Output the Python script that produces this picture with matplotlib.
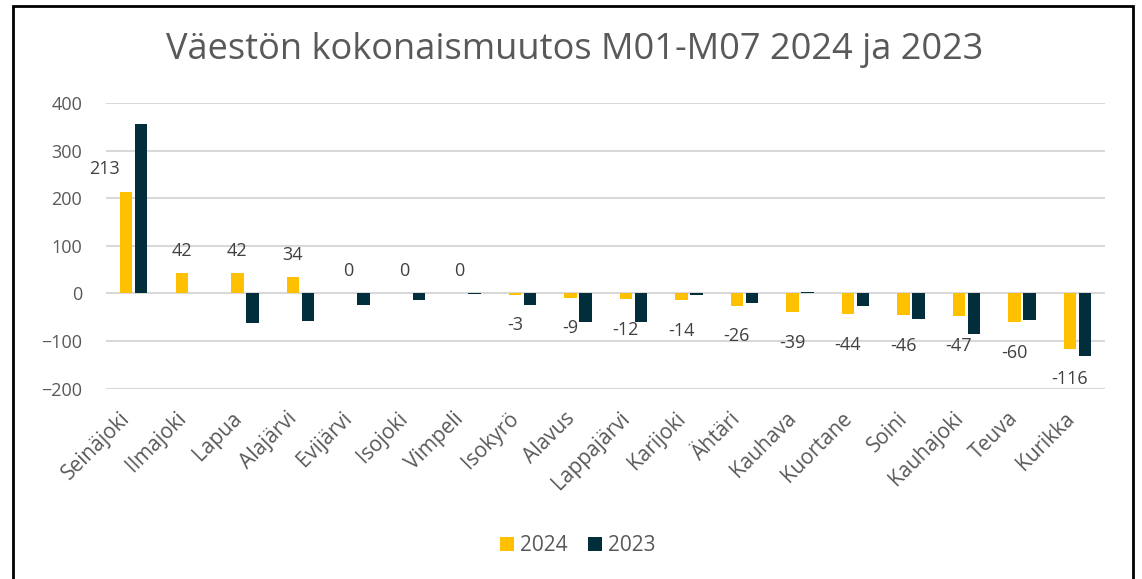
import matplotlib.pyplot as plt
import numpy as np
from matplotlib.patches import Rectangle
from matplotlib.transforms import ScaledTranslation

kunnat = ['Seinäjoki', 'Ilmajoki', 'Lapua', 'Alajärvi', 'Evijärvi', 'Isojoki', 'Vimpeli',
          'Isokyrö', 'Alavus', 'Lappajärvi', 'Karijoki', 'Ähtäri', 'Kauhava', 'Kuortane',
          'Soini', 'Kauhajoki', 'Teuva', 'Kurikka']
v2024 = [213, 42, 42, 34, 0, 0, 0, -3, -9, -12, -14, -26, -39, -44, -46, -47, -60, -116]
v2023 = [356, 0, -63, -58, -25, -14, -1, -24, -60, -61, -3, -20, 4, -26, -54, -86, -55, -131]

keltainen = '#FFC000'
tumma = '#022E3B'
harmaa = '#595959'

plt.rcParams['font.family'] = ['Open Sans', 'DejaVu Sans']

fig = plt.figure(figsize=(11.42, 5.79), dpi=100, facecolor='white')
ax = fig.add_axes([0.0928, 0.329, 0.875, 0.4926])

x = np.arange(len(kunnat))
w = 0.225
b1 = ax.bar(x - 0.135, v2024, w, color=keltainen, label='2024', zorder=3)
b2 = ax.bar(x + 0.135, v2023, w, color=tumma, label='2023', zorder=3)

# arvot 2024-palkkeihin
for i, v in enumerate(v2024):
    if i == 0:
        ax.annotate(str(v), xy=(x[i] - 0.135, v), xytext=(-16, 17), textcoords='offset points',
                    ha='center', va='center', fontsize=13, color='#404040')
    elif v >= 0:
        ax.annotate(str(v), xy=(x[i] - 0.135, v), xytext=(0, 16), textcoords='offset points',
                    ha='center', va='center', fontsize=13, color='#404040')
    else:
        ax.annotate(str(v), xy=(x[i] - 0.135, v), xytext=(0, -22), textcoords='offset points',
                    ha='center', va='center', fontsize=13, color='#404040')

ax.set_xlim(-0.5, len(kunnat) - 0.5)
ax.set_ylim(-200, 400)
ax.set_yticks(range(-200, 401, 100))
ax.yaxis.grid(True, color='#D9D9D9', linewidth=1.5, zorder=0)
ax.set_axisbelow(True)
for s in ax.spines.values():
    s.set_visible(False)
ax.tick_params(axis='both', length=0, labelsize=13, labelcolor=harmaa)
ax.tick_params(axis='y', pad=17)
ax.set_xticks(x)
ax.set_xticklabels(kunnat, rotation=45, ha='right', rotation_mode='anchor', fontsize=15)
ax.tick_params(axis='x', pad=14)
siirto = ScaledTranslation(-10 / 72, 0, fig.dpi_scale_trans)
for t in ax.get_xticklabels():
    t.set_transform(t.get_transform() + siirto)

fig.text(0.503, 0.914, 'Väestön kokonaismuutos M01-M07 2024 ja 2023', ha='center', va='center',
         fontsize=26, color=harmaa)

fig.legend(handles=[b1, b2], labels=['2024', '2023'], loc='center', bbox_to_anchor=(0.506, 0.058),
           ncol=2, frameon=False, fontsize=15, labelcolor=harmaa, handlelength=0.65,
           handleheight=0.65, handletextpad=0.3, columnspacing=1.0)

# musta kehys
fig.patches.append(Rectangle((13 / 1142, -0.05), 1120 / 1142, 1.05 - 6 / 579, transform=fig.transFigure,
                             fill=False, edgecolor='black', linewidth=2))

fig.savefig('out.png', dpi=100, facecolor='white')
